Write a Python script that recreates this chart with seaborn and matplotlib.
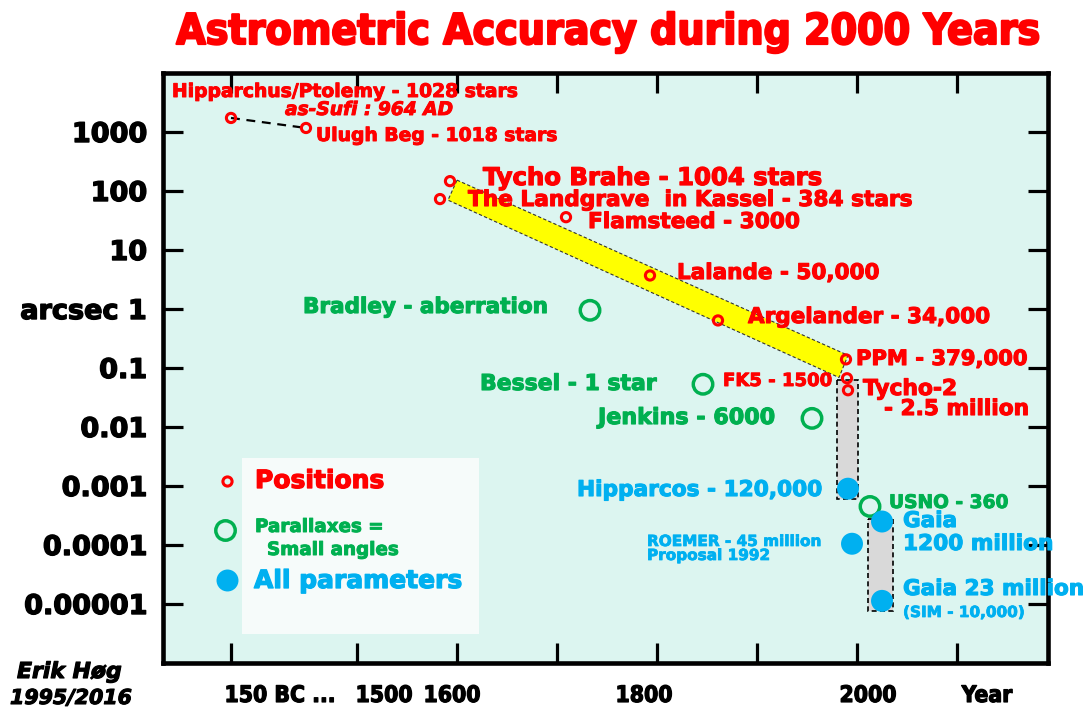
import numpy as np
import pandas as pd
import matplotlib
matplotlib.use("Agg")
import matplotlib.pyplot as plt
import matplotlib.patheffects as pe
from matplotlib.patches import Rectangle
from matplotlib.ticker import NullLocator
import seaborn as sns

# =====================================================
# DATA (year, accuracy in arcsec)
# =====================================================
pos_years = [-150, 1449, 1593, 1583, 1709, 1793, 1861, 1989, 1990, 1991]
pos_acc = [1730, 1170, 147, 73, 36, 3.7, 0.64, 0.14, 0.067, 0.042]

par_years = [1733, 1846, 1955, 2013]
par_acc = [0.95, 0.053, 0.014, 0.00045]

all_years = [1991, 1995, 2025, 2025]
all_acc = [0.0009, 0.000105, 0.00025, 0.0000113]

ancient_years = [-150, 1449]
ancient_acc = [1730, 1170]

band_years = [1600, 1991, 1982, 1591]
band_acc = [153, 0.164, 0.069, 70]

hip_box_years = [1980, 2001]
hip_box_acc = [0.062, 0.00061]
gaia_box_years = [2011, 2036]
gaia_box_acc = [0.00028, 0.0000077]

xtick_years = [-150, 1500, 1600, 1700, 1800, 1900, 2000, 2100]
xlabel_texts = ["150 BC ...", "1500", "1600", "1800", "2000", "Year"]
ytick_vals = [1e3, 1e2, 10, 1, 0.1, 0.01, 1e-3, 1e-4, 1e-5]
ytick_labels = ["1000", "100", "10", "arcsec 1", "0.1", "0.01",
                "0.001", "0.0001", "0.00001"]

RED = "#ff0000"
GREEN = "#00b050"
BLUE = "#00b0f0"

W, H = 1089, 708

# squeeze everything before 1400 so that 150 BC sits just left of 1500
K = 26 / 1550


def fwd(y):
    y = np.asarray(y, float)
    return np.where(y < 1400, 1400 + (y - 1400) * K, y)


def inv(x):
    x = np.asarray(x, float)
    return np.where(x < 1400, 1400 + (x - 1400) / K, x)


fig = plt.figure(figsize=(W / 100, H / 100), dpi=100)
ax = fig.add_axes([163 / W, 1 - 663 / H, (1048 - 163) / W, (663 - 73) / H])
ax.set_facecolor("#dcf5f0")
ax.set_xscale("function", functions=(fwd, inv))
ax.set_yscale("log")
ax.set_xlim(inv(1306), inv(2191))
ax.set_ylim(1e-6, 1e4)


def heavy(color, size):
    # thicken the glyphs a bit, the original uses a black-weight font
    return [pe.withStroke(linewidth=0.052 * size, foreground=color)]


def put(px, py, s, color="black", fontsize=15.5, **kw):
    kw.setdefault("fontweight", "bold")
    kw.setdefault("va", "baseline")
    fig.text(px / W, 1 - py / H, s, color=color, fontsize=fontsize,
             path_effects=heavy(color, fontsize), **kw)


# bands
ax.fill(band_years, band_acc, facecolor="#ffff00", edgecolor="#333333",
        linestyle=(0, (3, 2)), linewidth=0.8, zorder=2)
for bx, by in [(hip_box_years, hip_box_acc), (gaia_box_years, gaia_box_acc)]:
    ax.fill([bx[0], bx[1], bx[1], bx[0]], [by[0], by[0], by[1], by[1]],
            facecolor="#d9d9d9", edgecolor="black",
            linestyle=(0, (3, 2)), linewidth=1.2, zorder=2)

# dashed link of the ancient catalogues
sns.lineplot(x=ancient_years, y=ancient_acc, ax=ax, color="black",
             linestyle=(0, (4, 3)), linewidth=1.6, zorder=2, sort=False)

# legend box
ax.add_patch(Rectangle((242 / W, 1 - 634 / H), (479 - 242) / W, (634 - 458) / H,
                       transform=fig.transFigure, facecolor="#f6fbfa",
                       edgecolor="none", zorder=1.5))

pos_df = pd.DataFrame({"year": pos_years, "acc": pos_acc})
par_df = pd.DataFrame({"year": par_years, "acc": par_acc})
all_df = pd.DataFrame({"year": all_years, "acc": all_acc})

sns.scatterplot(data=pos_df, x="year", y="acc", ax=ax, marker="o", s=44,
                facecolor="none", edgecolor=RED, linewidth=2.2, zorder=4,
                legend=False)
sns.scatterplot(data=par_df, x="year", y="acc", ax=ax, marker="o", s=196,
                facecolor="none", edgecolor=GREEN, linewidth=2.5, zorder=4,
                legend=False)
sns.scatterplot(data=all_df, x="year", y="acc", ax=ax, marker="o", s=250,
                facecolor=BLUE, edgecolor="none", linewidth=0, zorder=4,
                legend=False)

# legend markers
ax.plot([227 / W], [1 - 481 / H], "o", transform=fig.transFigure, ms=6.6,
        mfc="none", mec=RED, mew=2.2, zorder=4)
ax.plot([225 / W], [1 - 530 / H], "o", transform=fig.transFigure, ms=14,
        mfc="none", mec=GREEN, mew=2.5, zorder=4)
ax.plot([227 / W], [1 - 580 / H], "o", transform=fig.transFigure, ms=15.8,
        mfc=BLUE, mec="none", zorder=4)

# axes frame and ticks
for sp in ax.spines.values():
    sp.set_linewidth(3.3)
    sp.set_zorder(5)
ax.set_xticks(xtick_years)
ax.set_xticklabels([])
ax.set_yticks(ytick_vals)
ax.set_yticklabels(ytick_labels, fontsize=19.5, fontweight="bold")
for lab in ax.get_yticklabels():
    lab.set_path_effects(heavy("black", 19.5))
ax.yaxis.set_minor_locator(NullLocator())
ax.xaxis.set_minor_locator(NullLocator())
ax.tick_params(which="major", direction="in", length=14.5, width=2.3,
               top=True, right=True, pad=11.5)
ax.set_xlabel("")
ax.set_ylabel("")

# title and x labels
put(609, 44, "Astrometric Accuracy during 2000 Years", color=RED,
    fontsize=30.5, ha="center", fontstretch="condensed")
for cx, t in zip([280, 384, 452, 644, 868, 987], xlabel_texts):
    put(cx, 702, t, fontsize=16.4, ha="center", fontstretch="condensed")
put(17, 678, "Erik Høg", fontsize=15.8, style="italic")
put(10, 704, "1995/2016", fontsize=14.8, style="italic")

# red labels - positions
put(172, 97, "Hipparchus/Ptolemy - 1028 stars", color=RED, fontsize=13.5)
put(285, 115, "as-Sufi : 964 AD", color=RED, fontsize=13.4, style="italic")
put(316, 141, "Ulugh Beg - 1018 stars", color=RED, fontsize=13.5)
put(483, 185, "Tycho Brahe - 1004 stars", color=RED, fontsize=17.5)
put(468, 206, "The Landgrave  in Kassel - 384 stars", color=RED, fontsize=15.6)
put(588, 228, "Flamsteed - 3000", color=RED, fontsize=15.6)
put(677, 279, "Lalande - 50,000", color=RED, fontsize=15.5)
put(748, 323, "Argelander - 34,000", color=RED, fontsize=15.5)
put(856, 365, "PPM - 379,000", color=RED, fontsize=15.2)
put(723, 386, "FK5 - 1500", color=RED, fontsize=13)
put(863, 395, "Tycho-2", color=RED, fontsize=15.7)
put(884, 415, "- 2.5 million", color=RED, fontsize=15.6)

# green labels - parallaxes
put(303, 313, "Bradley - aberration", color=GREEN, fontsize=15.5)
put(480, 390, "Bessel - 1 star", color=GREEN, fontsize=15.8)
put(598, 424, "Jenkins - 6000", color=GREEN, fontsize=16)
put(889, 508, "USNO - 360", color=GREEN, fontsize=13.4)

# blue labels - all parameters
put(577, 496, "Hipparcos - 120,000", color=BLUE, fontsize=15.6)
put(647, 546, "ROEMER - 45 million", color=BLUE, fontsize=11)
put(647, 560, "Proposal 1992", color=BLUE, fontsize=11)
put(903, 527, "Gaia", color=BLUE, fontsize=15.5)
put(903, 550, "1200 million", color=BLUE, fontsize=15.6)
put(903, 595, "Gaia 23 million", color=BLUE, fontsize=15.5)
put(903, 617, "(SIM - 10,000)", color=BLUE, fontsize=11)

# legend texts
put(255, 488, "Positions", color=RED, fontsize=18)
put(255, 532, "Parallaxes =", color=GREEN, fontsize=13.2)
put(267, 555, "Small angles", color=GREEN, fontsize=13.2)
put(254, 588, "All parameters", color=BLUE, fontsize=18)

fig.savefig("out.png", dpi=100)
